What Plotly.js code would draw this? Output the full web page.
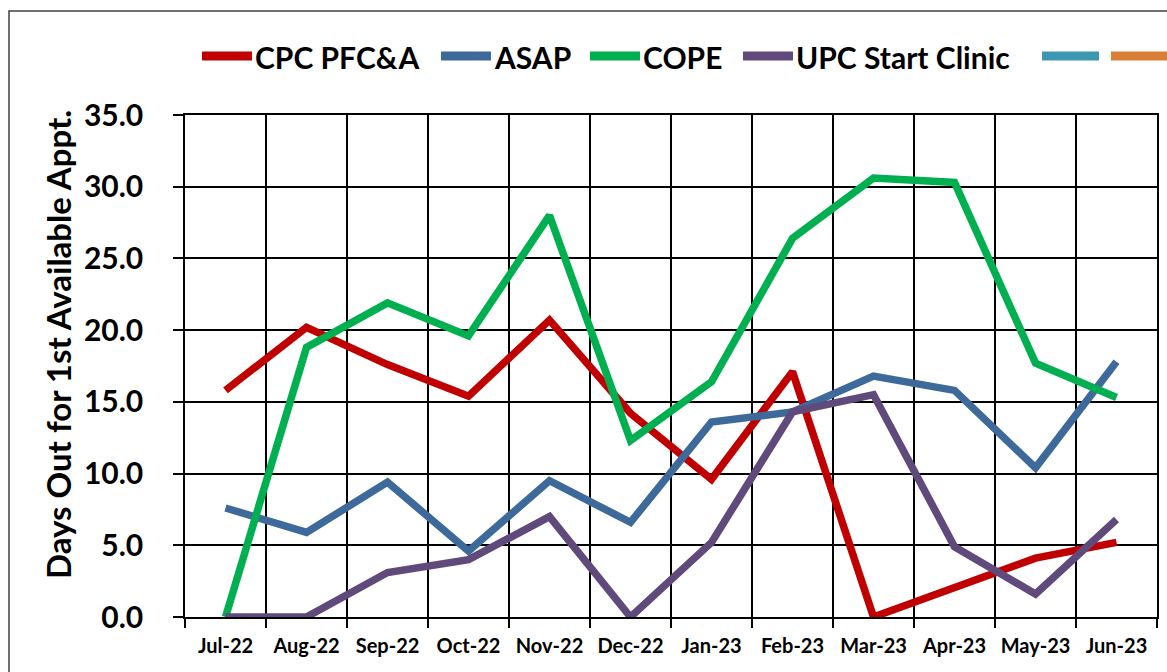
<!DOCTYPE html>
<html>
<head>
<meta charset="utf-8">
<script src="https://cdn.plot.ly/plotly-3.0.1.min.js"></script>
<style>
  html, body { margin: 0; padding: 0; background: #fff; }
  #chart { width: 1167px; height: 672px; }
</style>
</head>
<body>
<div id="chart"></div>
<script>
// Months on the x axis
const months = ['Jul-22', 'Aug-22', 'Sep-22', 'Oct-22', 'Nov-22', 'Dec-22',
                'Jan-23', 'Feb-23', 'Mar-23', 'Apr-23', 'May-23', 'Jun-23'];

// Days out for 1st available appointment, per clinic
const cpcPfca = [15.8, 20.2, 17.6, 15.4, 20.7, 14.2, 9.6, 17.1, 0.0, 2.1, 4.1, 5.2];
const asap    = [7.6, 5.9, 9.4, 4.6, 9.5, 6.6, 13.6, 14.3, 16.8, 15.8, 10.4, 17.8];
const cope    = [0.0, 18.8, 21.9, 19.6, 28.0, 12.3, 16.4, 26.4, 30.6, 30.3, 17.7, 15.3];
const upcStart = [0.0, 0.0, 3.1, 4.0, 7.0, 0.0, 5.2, 14.3, 15.5, 4.9, 1.6, 6.8];
// two series that only show up in the legend (no values)
const blankSeries = [null, null, null, null, null, null, null, null, null, null, null, null];

const seriesNames = ['CPC PFC&A', 'ASAP', 'COPE', 'UPC Start Clinic', '', ''];
const seriesData = [cpcPfca, asap, cope, upcStart, blankSeries, blankSeries];
const seriesColors = ['#C00000', '#3D6A9B', '#00B050', '#604A7B', '#3E97B0', '#DD7E35'];

const font = 'Lato, "Open Sans", sans-serif';

// plot area in pixels (margins below), used to place the legend + frame
const W = 1167, H = 672;
const M = { t: 115, b: 55, l: 185, r: 10 };
const px2x = px => (px - M.l) / (W - M.l - M.r);
const px2y = py => (H - M.b - py) / (H - M.t - M.b);

const traces = seriesData.map((vals, i) => ({
  x: months,
  y: vals,
  name: seriesNames[i],
  type: 'scatter',
  mode: 'lines',
  line: { color: seriesColors[i], width: 7.5 },
  showlegend: false,
  hoverinfo: 'x+y+name'
}));

// hand-built legend row across the top (Plotly's legend keys are too short)
const legendLineX = [202, 441, 590, 743, 1042, 1111];
const legendLineLen = [50, 50, 50, 50, 57, 60];
const legendY = 56;

const legendShapes = seriesNames.map((name, i) => ({
  type: 'line',
  xref: 'paper',
  yref: 'paper',
  x0: px2x(legendLineX[i]),
  x1: px2x(legendLineX[i] + legendLineLen[i]),
  y0: px2y(legendY),
  y1: px2y(legendY),
  line: { color: seriesColors[i], width: 9 }
}));

const legendLabels = seriesNames
  .map((name, i) => ({ name, i }))
  .filter(d => d.name !== '')
  .map(d => ({
    text: d.name,
    xref: 'paper',
    yref: 'paper',
    x: px2x(legendLineX[d.i] + legendLineLen[d.i] + 1),
    y: px2y(legendY + 1),
    xanchor: 'left',
    yanchor: 'middle',
    showarrow: false,
    font: { family: font, size: 30, weight: 'bold', color: '#000' }
  }));

const layout = {
  width: W,
  height: H,
  margin: M,
  paper_bgcolor: '#ffffff',
  plot_bgcolor: '#ffffff',
  font: { family: font, color: '#000000' },
  showlegend: false,
  xaxis: {
    type: 'category',
    tickson: 'boundaries',
    ticks: 'outside',
    ticklen: 9,
    tickwidth: 1.5,
    tickcolor: '#000',
    ticklabelstandoff: 10,
    showgrid: true,
    gridcolor: '#000',
    gridwidth: 1.5,
    showline: true,
    linecolor: '#000',
    linewidth: 1.5,
    mirror: true,
    range: [-0.5, 11.5],
    tickfont: { family: font, size: 20, weight: 'bold', color: '#000' }
  },
  yaxis: {
    range: [0, 35],
    dtick: 5,
    tickformat: '.1f',
    ticks: 'outside',
    ticklen: 10,
    tickwidth: 1.5,
    tickcolor: '#000',
    ticklabelstandoff: 24,
    showgrid: true,
    gridcolor: '#000',
    gridwidth: 1.5,
    zeroline: false,
    showline: true,
    linecolor: '#000',
    linewidth: 1.5,
    mirror: true,
    tickfont: { family: font, size: 30, weight: 'bold', color: '#000' }
  },
  annotations: [{
    text: 'Days Out for 1st Available Appt.',
    xref: 'paper',
    yref: 'paper',
    x: px2x(58),
    y: px2y(345),
    xanchor: 'center',
    yanchor: 'middle',
    textangle: -90,
    showarrow: false,
    font: { family: font, size: 33, weight: 'bold', color: '#000' }
  }].concat(legendLabels),
  shapes: [{
    // outer chart frame
    type: 'rect',
    xref: 'paper',
    yref: 'paper',
    x0: px2x(9),
    x1: px2x(W + 20),
    y0: px2y(H + 20),
    y1: px2y(11),
    line: { color: '#404040', width: 1.5 },
    fillcolor: 'rgba(0,0,0,0)'
  }].concat(legendShapes)
};

const config = {
  responsive: false,
  displayModeBar: false
};

Plotly.newPlot('chart', traces, layout, config);
</script>
</body>
</html>
